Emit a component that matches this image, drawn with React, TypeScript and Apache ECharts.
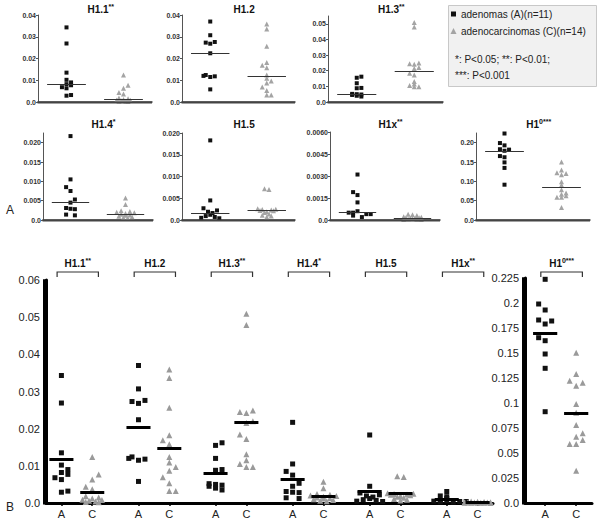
import React, { useEffect, useRef } from 'react';
import * as echarts from 'echarts';

const FONT = '"Liberation Sans", Arial, Helvetica, sans-serif';

// ---------- data ----------
const groupNames = ['H1.1', 'H1.2', 'H1.3', 'H1.4', 'H1.5', 'H1x', 'H1'];
const groupSup = ['', '', '', '', '', '', '0'];
const groupStars = ['**', '', '**', '*', '', '**', '***'];
const groupLabels = ['A', 'C'];

const adenomaValues = [
  [0.0343, 0.0269, 0.0135, 0.0102, 0.009, 0.0082, 0.0077, 0.0068, 0.0063, 0.0032, 0.0029],
  [0.037, 0.0307, 0.0276, 0.0273, 0.0268, 0.0224, 0.0124, 0.012, 0.0118, 0.0115, 0.0058],
  [0.0162, 0.0155, 0.012, 0.009, 0.0088, 0.0052, 0.005, 0.0048, 0.0045, 0.004, 0.0035],
  [0.0217, 0.0105, 0.0085, 0.0075, 0.0053, 0.0045, 0.0031, 0.0029, 0.0028, 0.0014, 0.0012],
  [0.0183, 0.0045, 0.0027, 0.0022, 0.0019, 0.0016, 0.0012, 0.0009, 0.0007, 0.0005, 0.0004],
  [0.0031, 0.0019, 0.0017, 0.0012, 0.0006, 0.0005, 0.0005, 0.0004, 0.0004, 0.0003, 0.0002],
  [0.2237, 0.199, 0.193, 0.183, 0.182, 0.179, 0.1653, 0.1623, 0.149, 0.1347, 0.0913],
];
const adenomaJitter = [
  [0, 0, 0, 0, 1, 0, 1, -1, 0, 1, 0],
  [0, 0, 1, -1, 0, 0, -1, -1.5, 1, 0, 0],
  [1, 0, 0, 1, 0, -1, 0, 1, -1, 0, 1],
  [0, 0, -1, 0, 1, 0, -1, 0, 1, -1, 1],
  [0, 0, -1.5, 1.5, -0.5, 0.5, 0, -1, 1, -2, 2],
  [0, -1, 0, 0, 0, -1, -2, 2, 3, -1, 1],
  [0, -1, 0, -1, 1, 0, -1, 0, 0, 0, 0],
];
const carcinomaValues = [
  [0.0124, 0.0077, 0.0063, 0.0044, 0.0037, 0.0018, 0.0015, 0.0012, 0.0009, 0.0008, 0.0006, 0.0004, 0.0003, 0.0002],
  [0.0359, 0.0336, 0.0256, 0.0182, 0.0169, 0.0158, 0.0124, 0.0109, 0.0097, 0.0087, 0.0069, 0.0053, 0.0032, 0.0032],
  [0.0509, 0.0479, 0.0249, 0.0245, 0.0242, 0.022, 0.0215, 0.0184, 0.0172, 0.0131, 0.0115, 0.0105, 0.0097, 0.0097],
  [0.0057, 0.004, 0.0024, 0.0022, 0.002, 0.0019, 0.0017, 0.0015, 0.0013, 0.0012, 0.001, 0.0008, 0.0006, 0.0005],
  [0.0072, 0.007, 0.0026, 0.0025, 0.0024, 0.0023, 0.0022, 0.0021, 0.0019, 0.0017, 0.0014, 0.0011, 0.0009, 0.0007],
  [0.0004, 0.00035, 0.0003, 0.00022, 0.00018, 0.00016, 0.00015, 0.00013, 0.0001, 0.00008, 0.00006, 0.00005, 0.00004, 0.00003],
  [0.1503, 0.129, 0.1223, 0.1203, 0.1173, 0.099, 0.0903, 0.078, 0.0697, 0.0663, 0.063, 0.059, 0.059, 0.0323],
];
const carcinomaJitter = [
  [0, 1, 0, -1, 0, -1, 1, 0, -1.5, 1.5, -0.5, 0.5, -1, 1],
  [0, 0, 0, 0, -1, 0, 0, 0, 1, 0, -1, 0, 0, 1],
  [0, 0, 1, -1, 0, 1, 0, -1, 0, 0, 0, -1, 0, 1],
  [0, 0, -1, 1, -2, 2, 0, -1, 1, 0, -1.5, 1.5, -0.5, 0.5],
  [-0.5, 0.5, -2, 2, -1, 1, -1.5, 1.5, 0, -0.5, 0.5, -1, 1, 0],
  [-1, 0, 1, -2, 2, -1.5, 1.5, -0.5, 0.5, 0, -1, 1, -2, 2],
  [0, 0, -1, 1, 0, 0, 0, 0, 1, 0, 1, -1, 0, 0],
];

const topMax = [0.04, 0.04, 0.055, 0.0225, 0.02, 0.006, 0.225];
const topTicks = [
  [0, 0.01, 0.02, 0.03, 0.04],
  [0, 0.01, 0.02, 0.03, 0.04],
  [0, 0.01, 0.02, 0.03, 0.04, 0.05],
  [0, 0.005, 0.01, 0.015, 0.02],
  [0, 0.005, 0.01, 0.015, 0.02],
  [0, 0.0015, 0.003, 0.0045, 0.006],
  [0, 0.05, 0.1, 0.15, 0.2],
];
const topTickDecimals = [2, 2, 2, 3, 3, 4, 2];
const bottomLeftTicks = [0, 0.01, 0.02, 0.03, 0.04, 0.05, 0.06];
const bottomRightTicks = [0, 0.025, 0.05, 0.075, 0.1, 0.125, 0.15, 0.175, 0.2, 0.225];

const legendLines = ['adenomas (A)(n=11)', 'adenocarcinomas (C)(n=14)'];
const noteLines = ['*: P<0.05; **: P<0.01;', '***: P<0.001'];

// ---------- layout ----------
const topLayout = [
  { left: 38, top: 15, width: 114, height: 87 },
  { left: 182, top: 15, width: 113, height: 87 },
  { left: 328, top: 16, width: 115, height: 86 },
  { left: 43, top: 133, width: 110, height: 87 },
  { left: 182, top: 133, width: 113, height: 87 },
  { left: 330, top: 132, width: 110, height: 88 },
  { left: 476, top: 133, width: 114, height: 87 },
];
const bottomLeftLayout = { left: 46, top: 280, width: 447, height: 223 };
const bottomRightLayout = { left: 525, top: 278, width: 67, height: 225 };

const median = (a: number[]) => {
  const s = [...a].sort((p, q) => p - q);
  const n = s.length;
  return n % 2 ? s[(n - 1) / 2] : (s[n / 2 - 1] + s[n / 2]) / 2;
};
const mean = (a: number[]) => a.reduce((p, q) => p + q, 0) / a.length;

function scatter(grid: number, pts: number[][], bars: number[][], symbol: string, size: number, color: string, barColor: string, barWidth: number) {
  return {
    type: 'scatter',
    xAxisIndex: grid,
    yAxisIndex: grid,
    symbol,
    symbolSize: size,
    itemStyle: { color, opacity: 1 },
    data: pts,
    silent: true,
    markLine: {
      silent: true,
      symbol: ['none', 'none'],
      label: { show: false },
      lineStyle: { color: barColor, width: barWidth, type: 'solid' },
      data: bars.map((b) => [{ coord: [b[0], b[2]] }, { coord: [b[1], b[2]] }]),
    },
  };
}

export default function App() {
  const ref = useRef<HTMLDivElement>(null);
  useEffect(() => {
    const chart = echarts.init(ref.current!, null, { renderer: 'svg' });
    const grids: any[] = [];
    const xAxes: any[] = [];
    const yAxes: any[] = [];
    const series: any[] = [];
    const jTop = 0.16;
    const halfTop = 0.68;

    topLayout.forEach((g, i) => {
      grids.push({ ...g });
      xAxes.push({
        gridIndex: i, type: 'value', min: 0, max: 4,
        axisLine: { show: true, lineStyle: { color: '#444', width: 1.5 } },
        axisTick: { show: false }, axisLabel: { show: false }, splitLine: { show: false },
      });
      yAxes.push({
        gridIndex: i, type: 'value', min: 0, max: topMax[i],
        axisLine: { show: true, lineStyle: { color: '#555', width: 1 } },
        axisTick: { show: true, length: 2, customValues: topTicks[i], lineStyle: { color: '#555' } },
        axisLabel: {
          show: true, customValues: topTicks[i], margin: 2, fontSize: 7, fontWeight: 'bold', color: '#333', fontFamily: FONT,
          formatter: (v: number) => (v === 0 ? '0.0' : v.toFixed(topTickDecimals[i])),
        },
        splitLine: { show: false },
      });
      const a = adenomaValues[i], c = carcinomaValues[i];
      series.push(scatter(i, a.map((v, k) => [1 + adenomaJitter[i][k] * jTop, v]), [[1 - halfTop, 1 + halfTop, median(a)]], 'rect', 4, '#111', '#333', 1));
      series.push(scatter(i, c.map((v, k) => [3 + carcinomaJitter[i][k] * jTop, v]), [[3 - halfTop, 3 + halfTop, median(c)]], 'triangle', 5, '#a4a4a4', '#333', 1));
    });

    // bottom panels
    const jB = 0.42;
    const halfB = 0.78;
    const BL = 7, BR = 8;
    grids.push({ ...bottomLeftLayout });
    grids.push({ ...bottomRightLayout });
    const leftA = [0, 1, 2, 3, 4, 5].map((g) => 5 * g + 1);
    const leftPos: number[] = [];
    leftA.forEach((x) => leftPos.push(x, x + 2));
    const rightA = 1.3;
    const rightPos = [rightA, rightA + 2];
    const bx = (idx: number, max: number, pos: number[]) => ({
      gridIndex: idx, type: 'value', min: 0, max,
      axisLine: { show: true, lineStyle: { color: '#000', width: 3 } },
      axisTick: { show: true, length: 3, customValues: pos, lineStyle: { color: '#000', width: 1.5 } },
      axisLabel: {
        show: true, customValues: pos, margin: 5, fontSize: 11, color: '#222', fontFamily: FONT,
        formatter: (v: number) => groupLabels[pos.findIndex((p) => Math.abs(p - v) < 1e-6) % 2],
      },
      splitLine: { show: false },
    });
    const by = (idx: number, ticks: number[]) => ({
      gridIndex: idx, type: 'value', min: 0, max: ticks[ticks.length - 1],
      axisLine: { show: true, lineStyle: { color: '#000', width: 3 } },
      axisTick: { show: true, length: 3, customValues: ticks, lineStyle: { color: '#000', width: 1.5 } },
      axisLabel: {
        show: true, customValues: ticks, margin: 6, fontSize: 11, color: '#222', fontFamily: FONT,
        formatter: (v: number) => (v === 0 ? '0.0' : String(+v.toFixed(3))),
      },
      splitLine: { show: false },
    });
    xAxes.push(bx(BL, 29, leftPos));
    xAxes.push(bx(BR, 4.32, rightPos));
    yAxes.push(by(BL, bottomLeftTicks));
    yAxes.push(by(BR, bottomRightTicks));

    const aPts: number[][] = [], cPts: number[][] = [], aBars: number[][] = [], cBars: number[][] = [];
    for (let g = 0; g < 6; g++) {
      const xa = leftA[g], xc = leftA[g] + 2;
      adenomaValues[g].forEach((v, k) => aPts.push([xa + adenomaJitter[g][k] * jB, v]));
      carcinomaValues[g].forEach((v, k) => cPts.push([xc + carcinomaJitter[g][k] * jB, v]));
      aBars.push([xa - halfB, xa + halfB, mean(adenomaValues[g])]);
      cBars.push([xc - halfB, xc + halfB, mean(carcinomaValues[g])]);
    }
    series.push(scatter(BL, aPts, aBars, 'rect', 5, '#111', '#000', 3));
    series.push(scatter(BL, cPts, cBars, 'triangle', 6, '#9a9a9a', '#000', 3));
    const a6 = adenomaValues[6], c6 = carcinomaValues[6];
    series.push(scatter(BR, a6.map((v, k) => [rightA + adenomaJitter[6][k] * jB, v]), [[rightA - halfB, rightA + halfB, mean(a6)]], 'rect', 5, '#111', '#000', 3));
    series.push(scatter(BR, c6.map((v, k) => [rightA + 2 + carcinomaJitter[6][k] * jB, v]), [[rightA + 2 - halfB, rightA + 2 + halfB, mean(c6)]], 'triangle', 6, '#9a9a9a', '#000', 3));

    chart.setOption({
      animation: false,
      backgroundColor: '#fff',
      textStyle: { fontFamily: FONT },
      grid: grids,
      xAxis: xAxes,
      yAxis: yAxes,
      series,
    });

    // ---------- annotations ----------
    const px = (grid: number, x: number, y: number) => {
      const r = chart.convertToPixel({ gridIndex: grid } as any, [x, y]) as number[];
      return [r[0], r[1]];
    };
    const titleText = (i: number) => {
      const sup = groupSup[i] + groupStars[i];
      return sup ? `{t|${groupNames[i]}}{s|${sup}}` : `{t|${groupNames[i]}}`;
    };
    const rich = {
      t: { fontSize: 10, fontWeight: 'bold', fontFamily: FONT, fill: '#111', color: '#111', lineHeight: 12 },
      s: { fontSize: 7, fontWeight: 'bold', fontFamily: FONT, fill: '#111', color: '#111', lineHeight: 8, verticalAlign: 'top' },
    };
    const graphics: any[] = [];
    topLayout.forEach((g, i) => {
      const p = px(i, 2.2, 0);
      graphics.push({
        type: 'text', x: p[0], y: i < 3 ? 9 : 124,
        style: { text: titleText(i), rich, align: 'center', verticalAlign: 'middle', textAlign: 'center', textVerticalAlign: 'middle' },
      });
      // baseline just under each small panel
      const yb = g.top + g.height;
      graphics.push({ type: 'rect', z: 200, zlevel: 1, shape: { x: g.left - 0.5, y: yb - 0.5, width: g.width + 0.5, height: 2 }, style: { fill: '#444' } });
    });
    // thick y-axis bars of the B panels, just left of the plotting area
    [bottomLeftLayout, bottomRightLayout].forEach((lay) => {
      graphics.push({ type: 'rect', z: 200, zlevel: 1, shape: { x: lay.left - 3, y: lay.top, width: 3.5, height: lay.height + 1.5 }, style: { fill: '#000' } });
    });

    const bracket = (grid: number, xa: number, xc: number, i: number, topY: number) => {
      const p1 = px(grid, xa - 0.28, 0);
      const p2 = px(grid, xc + 0.4, 0);
      const y = topY;
      graphics.push({
        type: 'polyline',
        shape: { points: [[p1[0], y + 5], [p1[0], y], [p2[0], y], [p2[0], y + 5]] },
        style: { stroke: '#333', lineWidth: 1.2, fill: 'none' },
      });
      graphics.push({
        type: 'text', x: (p1[0] + p2[0]) / 2, y: y - 9,
        style: { text: titleText(i), rich, align: 'center', verticalAlign: 'middle', textAlign: 'center', textVerticalAlign: 'middle' },
      });
    };
    for (let g = 0; g < 6; g++) bracket(BL, leftA[g], leftA[g] + 2, g, 272);
    bracket(BR, rightA, rightA + 2, 6, 272);

    // legend box
    graphics.push({ type: 'rect', shape: { x: 448.5, y: 5.5, width: 148, height: 81 }, style: { fill: '#f1f1f1', stroke: '#c8c8c8', lineWidth: 1 } });
    graphics.push({ type: 'rect', shape: { x: 451, y: 11.5, width: 5, height: 5 }, style: { fill: '#111' } });
    graphics.push({ type: 'polygon', shape: { points: [[453.5, 28], [450.5, 34], [456.5, 34]] }, style: { fill: '#a4a4a4' } });
    legendLines.forEach((t, k) => graphics.push({
      type: 'text', x: 461, y: 14 + k * 17,
      style: { text: t, font: `10px ${FONT}`, fill: '#222', align: 'left', verticalAlign: 'middle', textAlign: 'left', textVerticalAlign: 'middle' },
    }));
    noteLines.forEach((t, k) => graphics.push({
      type: 'text', x: 455, y: 59 + k * 16,
      style: { text: t, font: `10px ${FONT}`, fill: '#222', align: 'left', verticalAlign: 'middle', textAlign: 'left', textVerticalAlign: 'middle' },
    }));
    // panel letters
    graphics.push({ type: 'text', x: 10, y: 210, style: { text: 'A', font: `12px ${FONT}`, fill: '#222', align: 'center', verticalAlign: 'middle', textAlign: 'center', textVerticalAlign: 'middle' } });
    graphics.push({ type: 'text', x: 10, y: 507, style: { text: 'B', font: `12px ${FONT}`, fill: '#222', align: 'center', verticalAlign: 'middle', textAlign: 'center', textVerticalAlign: 'middle' } });

    chart.setOption({ graphic: { elements: graphics } });

    return () => chart.dispose();
  }, []);
  return <div ref={ref} style={{ position: 'absolute', left: 0, top: 0, width: 601, height: 524 }} />;
}
